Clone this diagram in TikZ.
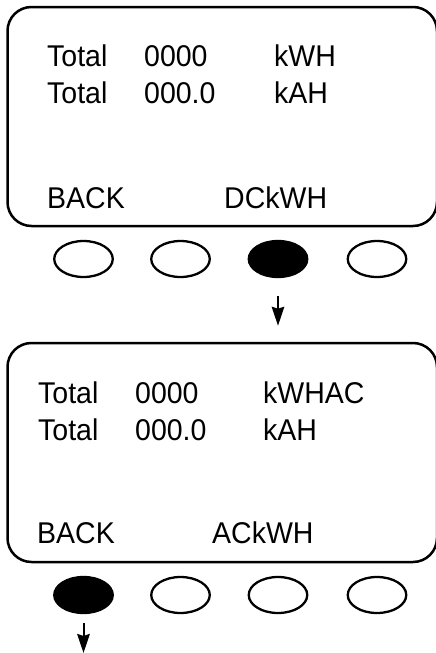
\documentclass[tikz,border=0pt]{standalone}
\usepackage{fontspec}
\setmainfont[FakeStretch=0.95]{Liberation Sans}
\usetikzlibrary{shapes.geometric,arrows.meta}
\tikzset{
  screen/.style={draw, line width=2.5pt, rounded corners=24pt, minimum width=429.5pt, minimum height=219pt, inner sep=0pt},
  btn/.style={draw, ellipse, line width=2.3pt, minimum width=58.5pt, minimum height=36pt, inner sep=0pt},
  btnon/.style={btn, fill=black},
  lbl/.style={anchor=base west, inner sep=0pt, font=\fontsize{30}{36}\selectfont},
  arr/.style={line width=2pt, -{Stealth[width=12.5pt,length=19pt,inset=2pt]}}
}
\begin{document}
\begin{tikzpicture}[x=1pt,y=-1pt]
\useasboundingbox (0,0) rectangle (436,653);
% top screen
\node[screen] (box1) at (222.25,116.5) {};
\node[lbl] (t11) at (47,66) {Total};
\node[lbl] (t12) at (144,66) {0000};
\node[lbl] (t13) at (274,66) {kWH};
\node[lbl] (t21) at (47,103) {Total};
\node[lbl] (t22) at (144,103) {000.0};
\node[lbl] (t23) at (274,103) {kAH};
\node[lbl] (t31) at (47,208) {BACK};
\node[lbl] (t32) at (224,208) {DCkWH};
% top buttons
\node[btn] (a1) at (83.5,259) {};
\node[btn] (a2) at (180.5,259) {};
\node[btnon] (a3) at (278,259) {};
\node[btn] (a4) at (377,259) {};
% bottom screen
\node[screen] (box2) at (222.25,452.5) {};
\node[lbl] (u11) at (38,403) {Total};
\node[lbl] (u12) at (135,403) {0000};
\node[lbl] (u13) at (263,403) {kWHAC};
\node[lbl] (u21) at (38,440) {Total};
\node[lbl] (u22) at (135,440) {000.0};
\node[lbl] (u23) at (263,440) {kAH};
\node[lbl] (u31) at (37,543) {BACK};
\node[lbl] (u32) at (212,543) {ACkWH};
% bottom buttons
\node[btnon] (b1) at (83.5,595) {};
\node[btn] (b2) at (180.5,595) {};
\node[btn] (b3) at (278,595) {};
\node[btn] (b4) at (377,595) {};
% arrows
\draw[arr, shorten <=18pt, shorten >=16pt] (a3.south) -- (a3.south |- box2.north);
\coordinate (bend) at (83.5,653);
\draw[arr, shorten <=9pt] (b1.south) -- (bend);
\end{tikzpicture}
\end{document}
